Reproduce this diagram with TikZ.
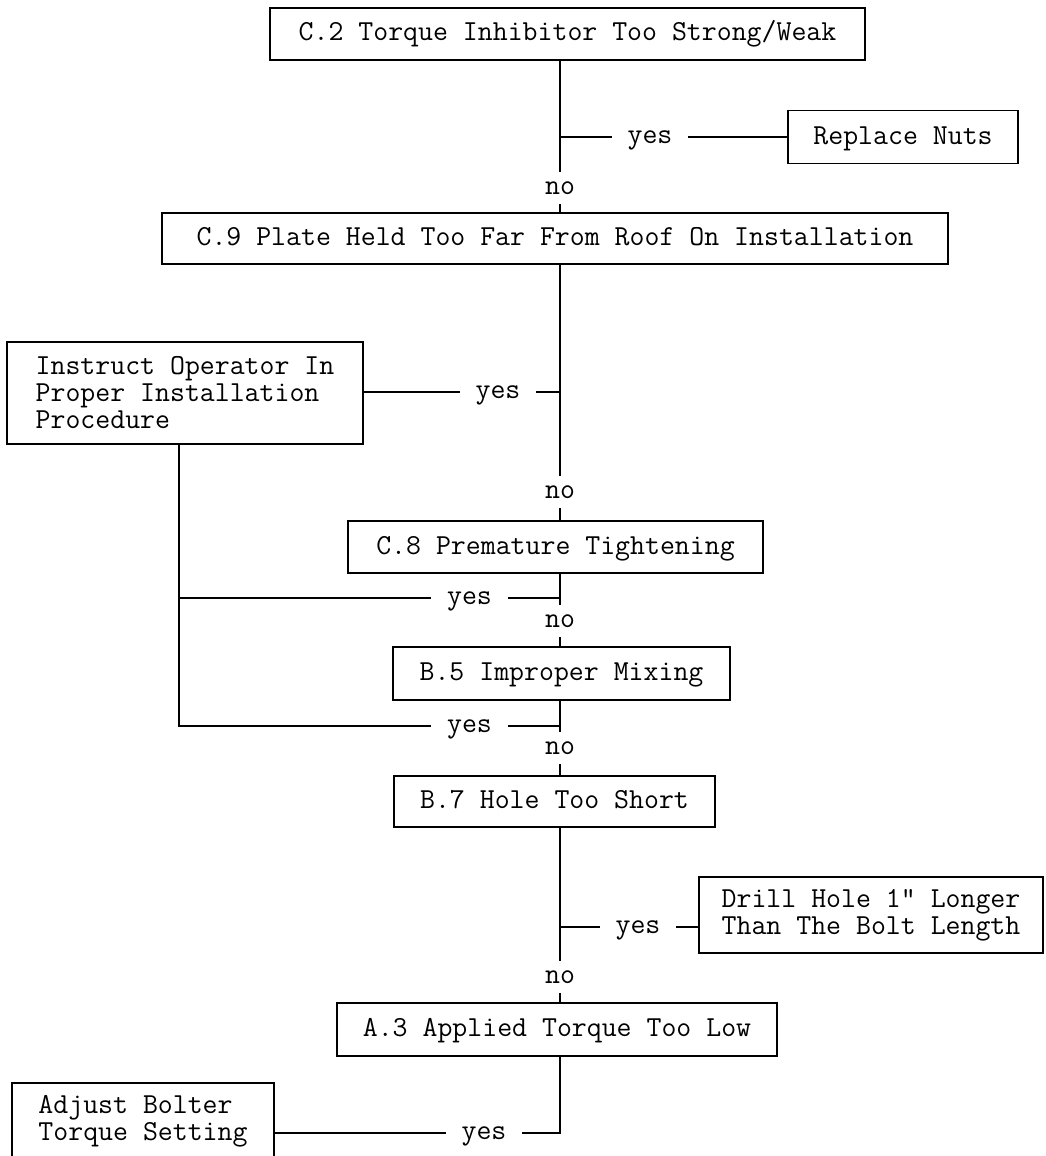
\documentclass[tikz,border=0pt]{standalone}
\usepackage{fontspec}
\newcommand\lab{\ttfamily\fontsize{29}{27}\selectfont}
\begin{document}
\begin{tikzpicture}[x=1pt,y=-1pt,
  every path/.style={line width=1.6pt},
  box/.style={draw, line width=1.6pt, inner sep=0pt, font=\lab, text height=20pt, text depth=6pt},
  mbox/.style={draw, line width=1.6pt, inner sep=0pt, font=\lab, align=left},
  yeslbl/.style={inner xsep=15pt, inner ysep=0pt, font=\lab, text height=12pt, text depth=0pt},
  nolbl/.style={inner xsep=2pt, inner ysep=9pt, font=\lab, text height=12pt, text depth=0pt}]
\useasboundingbox (0,0) rectangle (1045,1156);
\fill[white] (0,0) rectangle (1045,1156);

% boxes
\node[box, minimum width=595pt, minimum height=52pt] (c2) at (567.5,34) {C.2 Torque Inhibitor Too Strong/Weak};
\node[box, minimum width=230pt, minimum height=53pt] (rn) at (903,137) {Replace Nuts};
\node[box, minimum width=786pt, minimum height=51pt] (c9) at (555,238.5) {C.9 Plate Held Too Far From Roof On Installation};
\node[mbox, minimum width=356pt, minimum height=102pt] (ins) at (185,393) {Instruct Operator In\\Proper Installation\\Procedure};
\node[box, minimum width=415pt, minimum height=52pt] (c8) at (555.5,547) {C.8 Premature Tightening};
\node[box, minimum width=337pt, minimum height=53pt] (b5) at (561.5,673.5) {B.5 Improper Mixing};
\node[box, minimum width=321pt, minimum height=51pt] (b7) at (554.5,801.5) {B.7 Hole Too Short};
\node[mbox, minimum width=344pt, minimum height=76pt] (dr) at (871,915) {Drill Hole 1" Longer\\Than The Bolt Length};
\node[box, minimum width=440pt, minimum height=53pt] (a3) at (557,1029.5) {A.3 Applied Torque Too Low};
\node[mbox, minimum width=262pt, minimum height=76pt] (adj) at (143,1121) {Adjust Bolter\\Torque Setting};

% labels
\node[nolbl] (no1) at (560,188) {no};
\node[nolbl] (no2) at (560,492) {no};
\node[nolbl] (no3) at (560,621) {no};
\node[nolbl] (no4) at (560,748) {no};
\node[nolbl] (no5) at (560,977) {no};
\node[yeslbl] (y1) at (650,137) {yes};
\node[yeslbl] (y2) at (498,392) {yes};
\node[yeslbl] (y3) at (469.5,598) {yes};
\node[yeslbl] (y4) at (469.5,726) {yes};
\node[yeslbl] (y5) at (638,927) {yes};
\node[yeslbl] (y6) at (484,1133) {yes};
\coordinate (j1) at (179,598);
\coordinate (j2) at (179,726);

% trunk
\draw (c2.south -| no1) -- (no1.north);
\draw (no1.south) -- (c9.north -| no1);
\draw (c9.south -| no2) -- (no2.north);
\draw (no2.south) -- (c8.north -| no2);
\draw (c8.south -| no3) -- (no3.north);
\draw (no3.south) -- (b5.north -| no3);
\draw (b5.south -| no4) -- (no4.north);
\draw (no4.south) -- (b7.north -| no4);
\draw (b7.south -| no5) -- (no5.north);
\draw (no5.south) -- (a3.north -| no5);

% yes branches
\draw (y1.west -| no1) -- (y1.west);
\draw (y1.east) -- (y1.east -| rn.west);
\draw (ins.east |- y2) -- (y2.west);
\draw (y2.east) -- (y2.east -| no2);
\draw (ins.south -| j1) -- (j2) -- (y4.west);
\draw (j1) -- (y3.west);
\draw (y3.east) -- (y3.east -| no3);
\draw (y4.east) -- (y4.east -| no4);
\draw (y5.west -| no5) -- (y5.west);
\draw (y5.east) -- (y5.east -| dr.west);
\draw (a3.south -| no5) -- (y6.east -| no5) -- (y6.east);
\draw (y6.west) -- (y6.west -| adj.east);
\end{tikzpicture}
\end{document}
